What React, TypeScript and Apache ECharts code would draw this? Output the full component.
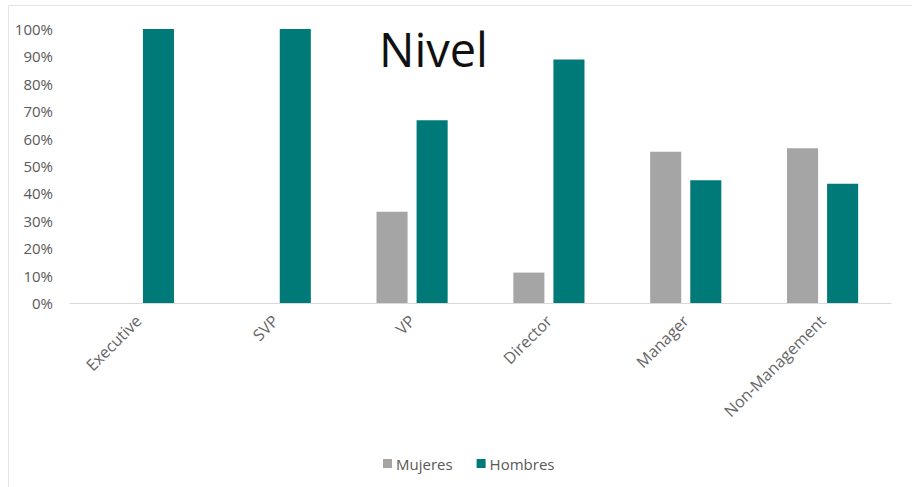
import React, { useEffect, useRef } from "react";
import * as echarts from "echarts";

const categories = ["Executive", "SVP", "VP", "Director", "Manager", "Non-Management"];
const mujeres = [0, 0, 33.3, 11.1, 55.2, 56.5];
const hombres = [100, 100, 66.7, 88.9, 44.8, 43.5];
const yTicks = [0, 10, 20, 30, 40, 50, 60, 70, 80, 90, 100];
const titleText = "Nivel";
const seriesNames = ["Mujeres", "Hombres"];

export default function App() {
  const ref = useRef<HTMLDivElement>(null);
  useEffect(() => {
    if (!ref.current) return;
    const chart = echarts.init(ref.current, undefined, { renderer: "svg" });
    chart.setOption({
      animation: false,
      backgroundColor: "#ffffff",
      textStyle: { fontFamily: "Open Sans" },
      title: {
        text: titleText,
        left: 374,
        top: 20,
        textStyle: { fontSize: 47, fontWeight: "normal", color: "#111111", fontFamily: "Open Sans" },
      },
      graphic: [
        {
          type: "rect",
          shape: { x: 8.5, y: 5.5, width: 920, height: 500 },
          style: { fill: "none", stroke: "#e4e4e4", lineWidth: 1 },
          silent: true,
        },
      ],
      legend: {
        data: seriesNames,
        left: 378,
        top: 451,
        itemWidth: 9,
        itemHeight: 9,
        itemGap: 24,
        icon: "rect",
        textStyle: { color: "#595959", fontSize: 15, padding: [0, 0, 0, -1] },
      },
      grid: { left: 70, right: 21, top: 29, bottom: 184 },
      xAxis: {
        type: "category",
        data: categories,
        axisLine: { show: true, lineStyle: { color: "#d9d9d9", width: 1 } },
        axisTick: { show: false },
        axisLabel: { rotate: 45, color: "#666666", fontSize: 16, margin: 15, interval: 0 },
      },
      yAxis: {
        type: "value",
        min: 0,
        max: 100,
        interval: 10,
        splitLine: { show: false },
        axisLine: { show: false },
        axisTick: { show: false },
        axisLabel: {
          color: "#595959",
          fontSize: 15,
          margin: 17,
          customValues: yTicks,
          formatter: (v: number) => `${v}%`,
        },
      },
      series: [
        {
          name: seriesNames[0],
          type: "bar",
          data: mujeres,
          itemStyle: { color: "#a5a5a5" },
          barGap: "29%",
          barCategoryGap: "48%",
        },
        {
          name: seriesNames[1],
          type: "bar",
          data: hombres,
          itemStyle: { color: "#007a78" },
          barGap: "29%",
          barCategoryGap: "48%",
        },
      ],
    });
    return () => chart.dispose();
  }, []);
  return (
    <div
      ref={ref}
      style={{ position: "fixed", left: 0, top: 0, width: 912, height: 487 }}
    />
  );
}
